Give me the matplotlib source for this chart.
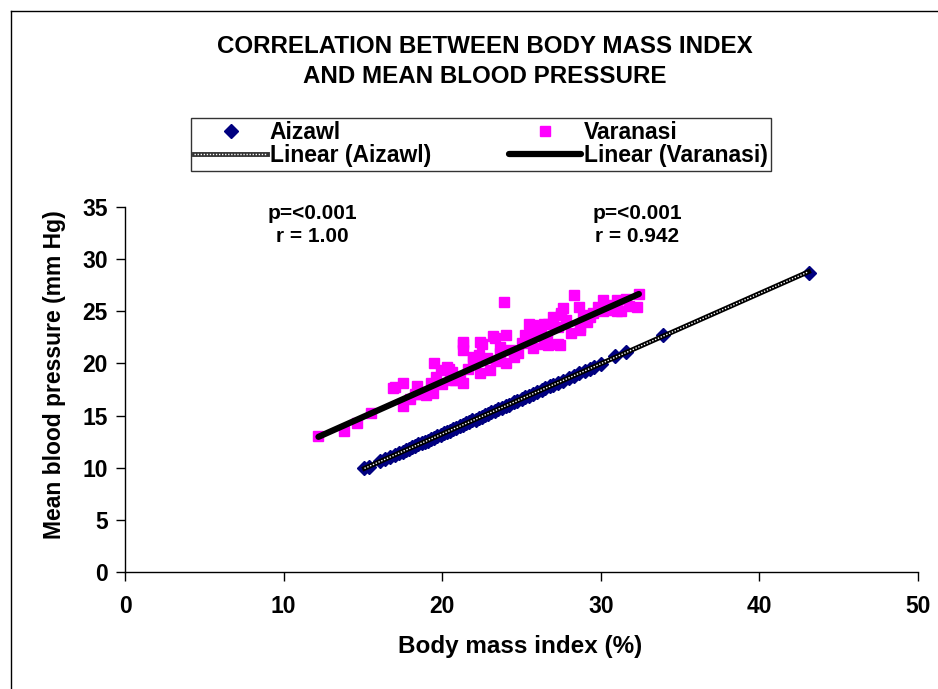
import numpy as np
import matplotlib
matplotlib.use("Agg")
import matplotlib.pyplot as plt
from matplotlib.lines import Line2D
from matplotlib.legend_handler import HandlerTuple

plt.rcParams['font.family'] = ['Liberation Sans', 'DejaVu Sans']
plt.rcParams['font.weight'] = 'bold'

# Aizawl: body mass index vs mean blood pressure
aizawl_bmi = [15.1, 15.4, 16.1, 16.4, 16.7, 17.0, 17.3, 17.5, 17.7, 17.9,
              18.1, 18.3, 18.5, 18.7, 18.9, 19.1, 19.3, 19.5, 19.7, 19.9,
              20.1, 20.3, 20.5, 20.7, 20.9, 21.1, 21.3, 21.5, 21.7, 21.9,
              22.1, 22.3, 22.5, 22.7, 22.9, 23.1, 23.3, 23.5, 23.8, 24.0,
              24.2, 24.5, 24.7, 25.0, 25.2, 25.5, 25.7, 26.0, 26.3, 26.5,
              26.8, 27.0, 27.3, 27.6, 28.0, 28.3, 28.6, 29.0, 29.3, 29.6,
              30.0, 30.9, 31.6, 33.9, 43.1]
aizawl_mbp = [9.95, 10.1, 10.65, 10.8, 11.05, 11.2, 11.45, 11.5, 11.7, 11.8,
              12.0, 12.05, 12.25, 12.35, 12.5, 12.6, 12.8, 12.85, 13.05, 13.15,
              13.3, 13.45, 13.55, 13.75, 13.8, 14.0, 14.1, 14.25, 14.35, 14.55,
              14.6, 14.8, 14.9, 15.1, 15.15, 15.35, 15.45, 15.6, 15.75, 15.95,
              16.05, 16.3, 16.35, 16.6, 16.75, 16.9, 17.1, 17.25, 17.5, 17.6,
              17.8, 17.95, 18.15, 18.3, 18.65, 18.8, 19.05, 19.3, 19.5, 19.7,
              19.95, 20.7, 21.1, 22.7, 28.7]

# Varanasi
varanasi_bmi = [12.2, 13.8, 14.6, 15.5, 16.9, 17.0, 17.5, 17.5, 18.3, 18.5,
                18.4, 19.3, 19.4, 19.5, 19.6, 19.9, 20.3, 20.4, 20.5, 20.8,
                21.1, 21.3, 21.3, 21.3, 21.3, 21.95, 21.95, 22.3, 22.4, 22.5,
                22.4, 23.0, 23.2, 23.3, 23.65, 23.65, 23.9, 24.05, 24.05, 24.5,
                25.2, 25.3, 25.5, 25.75, 25.75, 26.4, 26.4, 26.6, 26.7, 26.7,
                27.0, 27.3, 27.3, 27.4, 27.5, 27.5, 27.6, 28.15, 28.3, 28.6,
                28.7, 28.7, 29.1, 29.3, 29.5, 30.15, 30.15, 30.4, 31.0, 31.0,
                31.3, 31.6, 32.4, 32.3, 18.0, 18.8, 19.0, 20.0, 20.6, 21.6,
                22.0, 22.8, 23.4, 24.3, 24.8, 25.0, 25.9, 26.2, 27.8, 28.9,
                29.8, 30.6, 31.8]
varanasi_mbp = [13.0, 13.5, 14.3, 15.2, 17.6, 17.7, 18.1, 15.9, 17.1, 17.1,
                17.8, 18.1, 17.2, 20.0, 18.7, 19.4, 19.7, 19.5, 18.4, 18.4,
                18.4, 18.1, 21.9, 22.1, 21.3, 20.2, 20.65, 20.8, 22.1, 21.9,
                19.05, 19.4, 22.6, 22.4, 21.6, 21.0, 25.9, 22.7, 20.0, 20.6,
                22.7, 22.4, 23.8, 23.7, 21.45, 23.8, 21.9, 22.4, 21.8, 23.8,
                24.5, 23.5, 21.9, 21.8, 24.6, 24.8, 25.3, 22.9, 26.6, 25.4,
                23.2, 23.5, 24.0, 24.5, 24.8, 26.1, 25.0, 25.1, 26.1, 25.0,
                25.0, 26.2, 26.65, 25.4, 16.6, 17.3, 17.0, 18.0, 19.2, 19.5,
                19.9, 20.5, 20.2, 21.3, 21.0, 22.0, 22.8, 23.0, 24.2, 24.6,
                25.4, 25.6, 25.5]

# Excel trendline for Varanasi as printed on the chart (slope, intercept)
varanasi_trend = [0.678, 4.69]

annot_x = [11.8, 32.3]
annot_p = ['p=<0.001', 'p=<0.001']
annot_r = ['r = 1.00', 'r = 0.942']

W, H = 938, 689
fig = plt.figure(figsize=(W / 100, H / 100), dpi=100)
ax = fig.add_axes([125 / W, 1 - 572 / H, (918 - 125) / W, (572 - 207) / H])

# scatter points
ax.plot(aizawl_bmi, aizawl_mbp, linestyle='none', marker='D', markersize=6.8,
        color='#000080', zorder=2)
ax.plot(varanasi_bmi, varanasi_mbp, linestyle='none', marker='s',
        markersize=7.5, color='#FF00FF', zorder=2)

# linear trendlines
a_fit = np.polyfit(aizawl_bmi, aizawl_mbp, 1)
xa = np.array([min(aizawl_bmi), max(aizawl_bmi)])
ax.plot(xa, np.polyval(a_fit, xa), color='black', lw=3.5, zorder=3)
ax.plot(xa, np.polyval(a_fit, xa), color='white', lw=1.0,
        linestyle=(0, (1, 1.2)), zorder=4)

xv = np.array([min(varanasi_bmi), max(varanasi_bmi)])
ax.plot(xv, np.polyval(varanasi_trend, xv), color='black', lw=4.5,
        solid_capstyle='round', zorder=3)

ax.set_xlim(0, 50)
ax.set_ylim(0, 35)
ax.set_xticks(np.arange(0, 51, 10))
ax.set_yticks(np.arange(0, 36, 5))
for s in ['top', 'right']:
    ax.spines[s].set_visible(False)
for s in ['left', 'bottom']:
    ax.spines[s].set_color('black')
    ax.spines[s].set_linewidth(1.0)
ax.tick_params(axis='both', direction='out', length=6.5, width=1.0,
               labelsize=16.5, colors='black')
ax.tick_params(axis='x', pad=10)
ax.tick_params(axis='y', pad=6)

# p / r annotations
for x, p, r in zip(annot_x, annot_p, annot_r):
    ax.text(x, 33.85, p, ha='center', va='baseline', fontsize=15,
            fontweight='bold', clip_on=False)
    ax.text(x, 31.6, r, ha='center', va='baseline', fontsize=15,
            fontweight='bold', clip_on=False)

# titles and axis labels
fig.text(485 / W, 1 - 53 / H, 'CORRELATION BETWEEN BODY MASS INDEX',
         ha='center', va='baseline', fontsize=17.4, fontweight='bold')
fig.text(485 / W, 1 - 83 / H, 'AND MEAN BLOOD PRESSURE',
         ha='center', va='baseline', fontsize=17.4, fontweight='bold')
fig.text(520 / W, 1 - 653 / H, 'Body mass index (%)', ha='center',
         va='baseline', fontsize=17.5, fontweight='bold')
fig.text(55 / W, 1 - 375 / H, 'Mean blood pressure (mm Hg)', ha='center',
         va='center', rotation=90, fontsize=16.5, fontweight='bold')

# legend
h_aiz = Line2D([0], [0], linestyle='none', marker='D', markersize=6.8,
               color='#000080')
h_var = Line2D([0], [0], linestyle='none', marker='s', markersize=7.5,
               color='#FF00FF')
h_lin_a = (Line2D([0], [0], color='#333333', lw=3.5),
           Line2D([0], [0], color='white', lw=1.0, linestyle=(0, (1, 1.2))))
h_lin_v = Line2D([0], [0], color='black', lw=4.5, solid_capstyle='round')
leg = fig.legend(handles=[h_aiz, h_lin_a, h_var, h_lin_v],
                 labels=['Aizawl', 'Linear (Aizawl)', 'Varanasi',
                         'Linear (Varanasi)'],
                 handler_map={tuple: HandlerTuple(ndivide=1)},
                 ncol=2, loc='upper left', mode='expand',
                 bbox_to_anchor=(191 / W, 1 - 167 / H, 580 / W, 49 / H),
                 borderaxespad=0, fontsize=16.5,
                 handlelength=3.15, handletextpad=0.13, labelspacing=0.0,
                 borderpad=0.15, fancybox=False,
                 frameon=True, edgecolor='black')
leg.get_frame().set_linewidth(1.0)

# outer chart border (cropped on right/bottom)
fig.add_artist(Line2D([11 / W, 11 / W], [0, 1 - 11 / H], color='black',
                      lw=1.0, transform=fig.transFigure))
fig.add_artist(Line2D([11 / W, 1], [1 - 11 / H, 1 - 11 / H], color='black',
                      lw=1.0, transform=fig.transFigure))

fig.savefig('out.png', dpi=100, facecolor='white')
